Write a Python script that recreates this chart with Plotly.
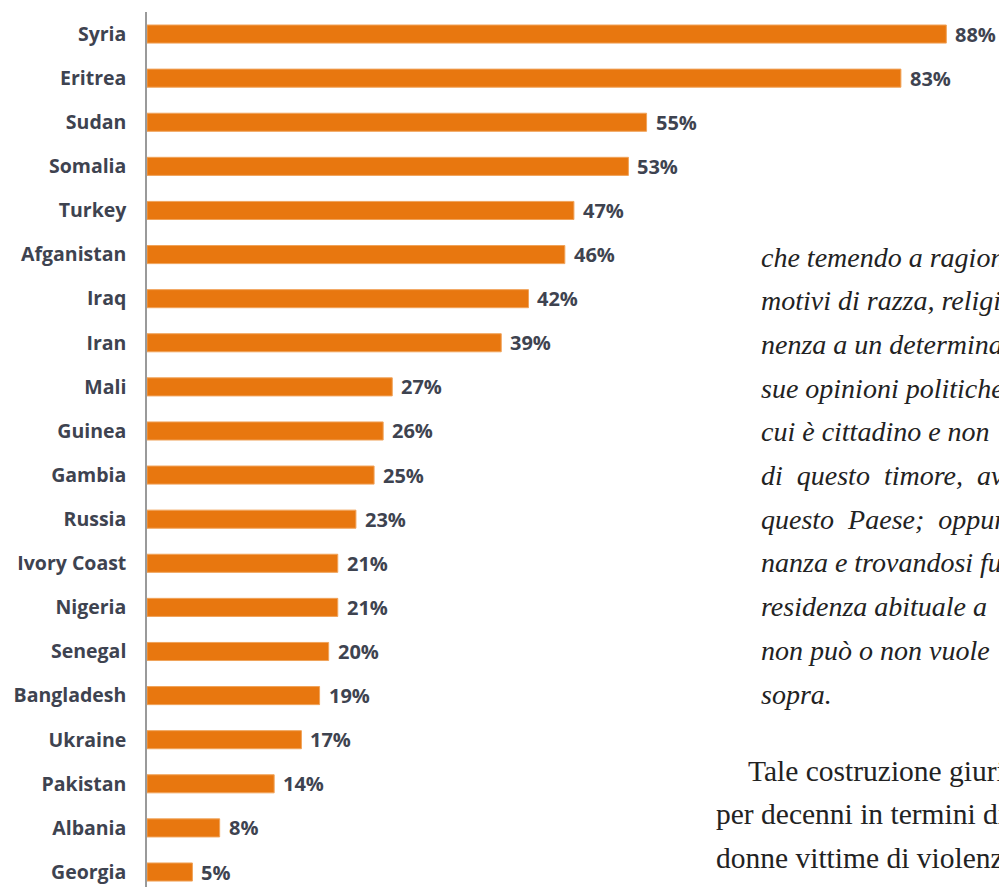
import plotly.graph_objects as go

countries = ["Syria", "Eritrea", "Sudan", "Somalia", "Turkey", "Afganistan", "Iraq", "Iran",
             "Mali", "Guinea", "Gambia", "Russia", "Ivory Coast", "Nigeria", "Senegal",
             "Bangladesh", "Ukraine", "Pakistan", "Albania", "Georgia"]
values = [88, 83, 55, 53, 47, 46, 42, 39, 27, 26, 25, 23, 21, 21, 20, 19, 17, 14, 8, 5]

italic_lines = [
    "che temendo a ragione di essere",
    "motivi di razza, religione,",
    "nenza a un determinato",
    "sue opinioni politiche,",
    "cui è cittadino e non",
    "di  questo  timore,  avvalersi",
    "questo  Paese;  oppure",
    "nanza e trovandosi fuori",
    "residenza abituale a",
    "non può o non vuole",
    "sopra.",
]
roman_lines = [
    "Tale costruzione giuridica",
    "per decenni in termini di diritto",
    "donne vittime di violenza e",
    "dei diritti delle persone",
]

BAR = "#E8770F"
LABEL = "#3E4350"

W, H = 999, 887
L, T = 147, 12
PW, PH = W - L, H - T


def px(xpix):
    return (xpix - L) / PW


def py(ypix):
    return 1 - (ypix - T) / PH


fig = go.Figure(go.Bar(
    x=values, y=countries, orientation="h",
    marker=dict(color=BAR, line=dict(color="#F0A35A", width=1)),
    width=0.41,
    hoverinfo="skip",
))

for c, v in zip(countries, values):
    fig.add_annotation(x=v, y=c, xref="x", yref="y", text=f"<b>{v}%</b>",
                       showarrow=False, xanchor="left", xshift=7,
                       font=dict(family="Open Sans", size=20, color=LABEL))

for i, line in enumerate(italic_lines):
    ypix = 257 + i * 43.7
    fig.add_annotation(x=px(759), y=py(ypix), xref="paper", yref="paper",
                       text=f"<i>{line}</i>", showarrow=False,
                       xanchor="left", yanchor="middle",
                       font=dict(family="Liberation Serif", size=28, color="#222222"))

roman_x = [746, 714, 714, 714]
for i, line in enumerate(roman_lines):
    ypix = 771 + i * 43.3
    fig.add_annotation(x=px(roman_x[i]), y=py(ypix), xref="paper", yref="paper",
                       text=line, showarrow=False, xanchor="left", yanchor="middle",
                       font=dict(family="Liberation Serif", size=29.5, color="#222222"))

fig.update_layout(
    width=W, height=H,
    margin=dict(l=L, r=0, t=T, b=0),
    paper_bgcolor="white", plot_bgcolor="white",
    showlegend=False,
    xaxis=dict(range=[0, 93.8], visible=False, fixedrange=True),
    yaxis=dict(range=[19.34, -0.5], showline=True, linecolor="#9A9A9A", linewidth=1.5,
               showgrid=False, ticks="", ticklabelstandoff=15,
               tickfont=dict(family="Open Sans", size=19.5, color=LABEL),
               categoryorder="array", categoryarray=countries),
)
fig.update_yaxes(tickprefix="<b>", ticksuffix="</b>")

fig.write_html("out.html", config={"displayModeBar": False},
               post_script="document.body.style.margin='0';document.body.style.overflow='hidden';")
